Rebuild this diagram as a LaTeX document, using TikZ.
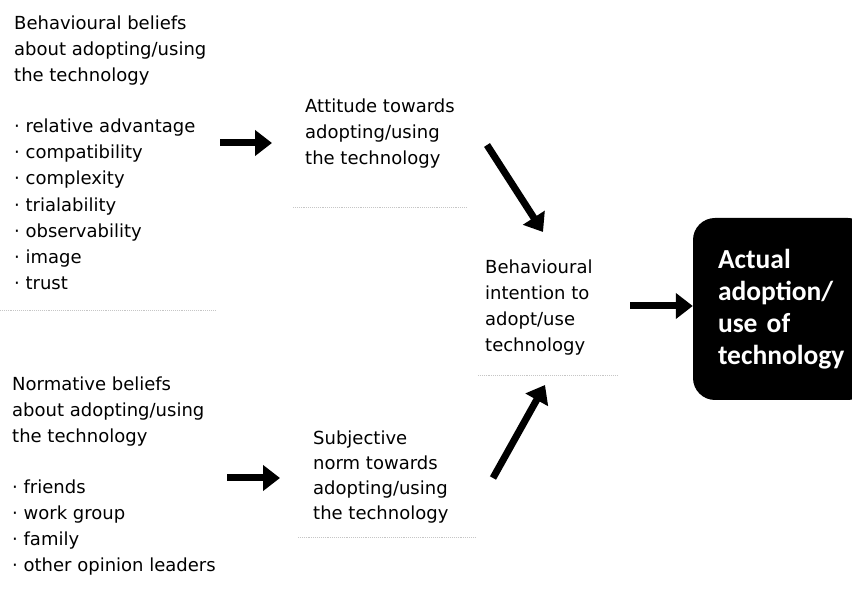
\documentclass[tikz,border=0pt]{standalone}
\usepackage{fontspec}
\setmainfont{DejaVu Sans}
\newfontfamily\boxfont{Carlito}
\usetikzlibrary{arrows.meta}

\begin{document}
\begin{tikzpicture}[x=1pt,y=1pt]
\tikzstyle{every node}+=[inner sep=0pt]
\tikzstyle{txt}=[align=left, anchor=base west, font=\fontsize{18}{26.3}\selectfont]
\tikzstyle{fat}=[line width=7pt, -{Triangle[length=17pt,width=25pt]}]
\tikzstyle{rule}=[gray!45, line width=0.9pt, densely dotted]
\tikzstyle{actbox}=[fill=black, rounded corners=22pt, minimum width=177pt, minimum height=182pt,
  text=white, text width=127pt, align=left, font=\boxfont\bfseries\fontsize{27.5}{32}\selectfont]
\clip (0,0) rectangle (852,600);
% left column (anchored on the last line)
\node[txt] (beh) at (14,310) {Behavioural beliefs\\about adopting/using\\the technology\\[24pt]%
· relative advantage\\· compatibility\\· complexity\\· trialability\\· observability\\· image\\· trust};
\node[txt] (norm) at (12,28) {Normative beliefs\\about adopting/using\\the technology\\[24pt]%
· friends\\· work group\\· family\\· other opinion leaders};
% middle column
\node[txt] (att) at (305,435) {Attitude towards\\adopting/using\\the technology};
\node[txt, font=\fontsize{18}{25}\selectfont] (subj) at (313,80) {Subjective\\norm towards\\adopting/using\\the technology};
\node[txt] (intn) at (485,248) {Behavioural\\intention to\\adopt/use\\technology};
\node[actbox] (act) at (781.5,291) {Actual\\adoption/\\use of\\technology};
% faint box edges
\draw[rule] (0,290) -- (215,290);
\draw[rule] (293,393) -- (467,393);
\draw[rule] (298,63) -- (475,63);
\draw[rule] (478,225) -- (617,225);
% arrows
\coordinate (beh-out) at (220,457);
\coordinate (att-in) at (272,457);
\coordinate (norm-out) at (227,122);
\coordinate (subj-in) at (280,122);
\coordinate (att-out) at (487,455);
\coordinate (intn-top) at (543,368);
\coordinate (subj-out) at (493,122);
\coordinate (intn-bot) at (545,215);
\draw[fat] (beh-out) -- (att-in);
\draw[fat] (norm-out) -- (subj-in);
\draw[fat] (att-out) -- (intn-top);
\draw[fat] (subj-out) -- (intn-bot);
\draw[fat] (630,294) -- (act.west |- 0,294);
\end{tikzpicture}
\end{document}
